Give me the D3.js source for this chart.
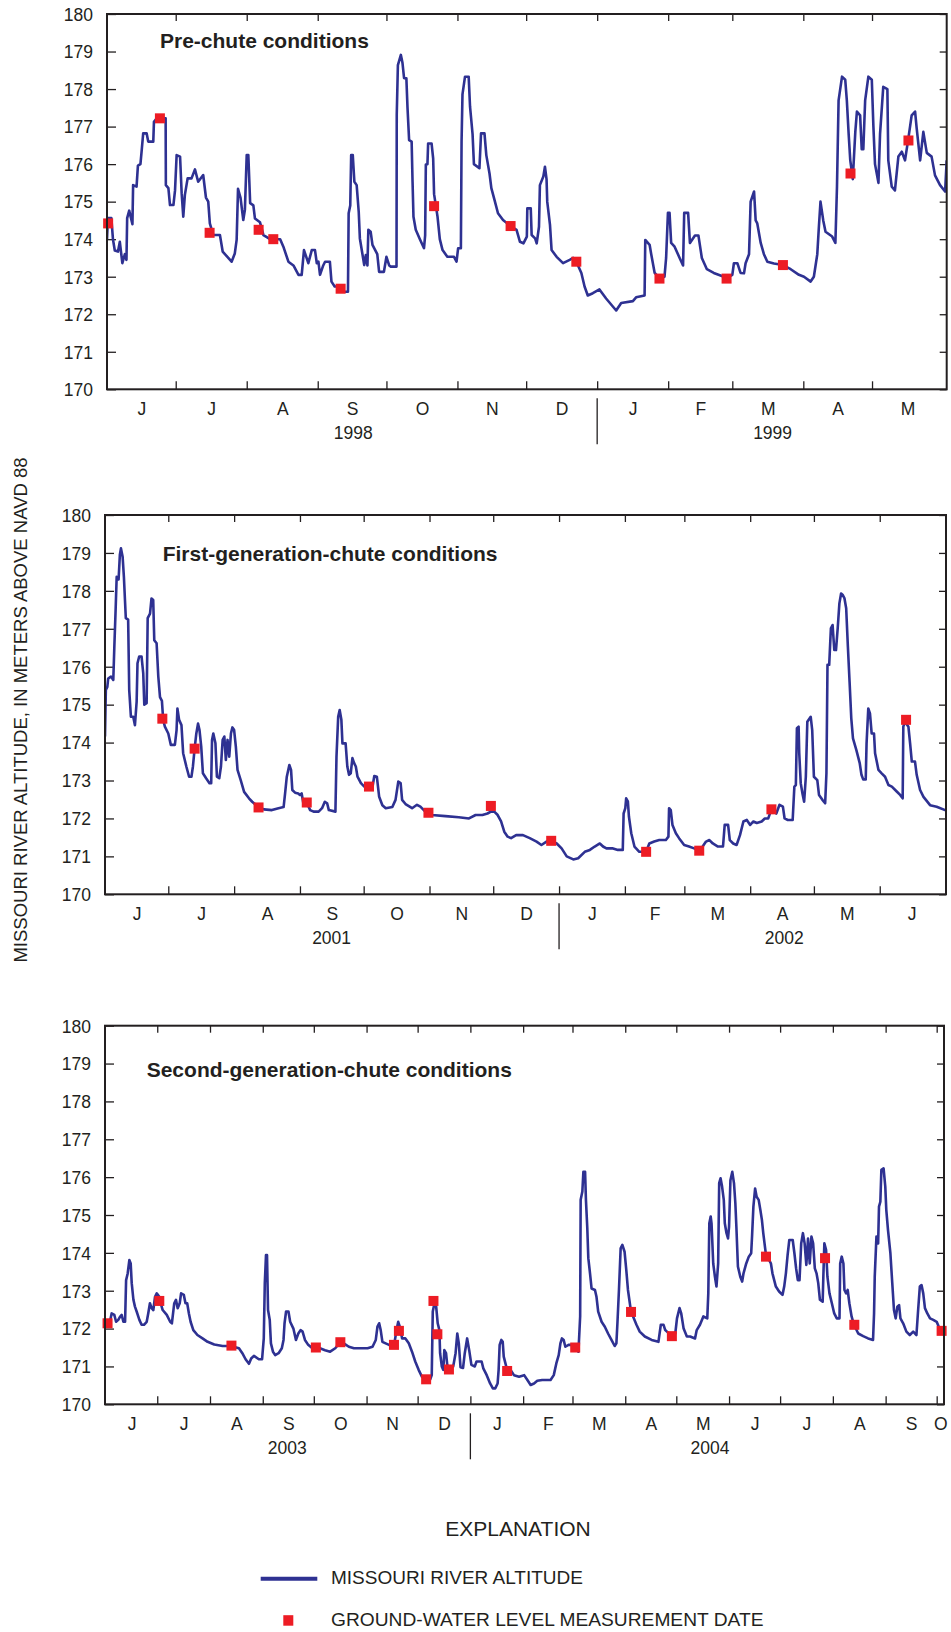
<!DOCTYPE html>
<html>
<head>
<meta charset="utf-8">
<script src="https://cdn.jsdelivr.net/npm/d3@7"></script>
<style>
  html, body { margin: 0; padding: 0; background: #fff; }
  svg { display: block; font-family: Arial, "Liberation Sans", Helvetica, sans-serif; }
</style>
</head>
<body>
<svg id="chart" width="951" height="1632"></svg>
<script>
// Dates are written "YYYY-MM-DD" where the day may carry a fraction (e.g. "1998-06-12.4").

// ---- Pre-chute period, June 1998 - May 1999 ----
const river1998 = [
  ["1998-06-01",174.0],["1998-06-01.4",174.56],["1998-06-02.9",174.56],["1998-06-03.6",174.0],
  ["1998-06-04.4",173.7],["1998-06-05.8",173.67],["1998-06-06.6",173.93],["1998-06-07.7",173.36],
  ["1998-06-08.8",173.6],["1998-06-09.5",173.45],["1998-06-09.8",174.56],["1998-06-10.7",174.76],
  ["1998-06-12.1",174.4],["1998-06-12.4",175.44],["1998-06-13.9",175.4],["1998-06-14.5",175.96],
  ["1998-06-15.6",176.0],["1998-06-16.1",176.33],["1998-06-16.8",176.82],["1998-06-18.3",176.82],
  ["1998-06-19",176.6],["1998-06-21.2",176.6],["1998-06-21.5",177.13],["1998-06-22.7",177.22],
  ["1998-06-26.6",177.22],["1998-06-26.7",175.44],["1998-06-27.8",175.36],["1998-06-28.5",174.91],
  ["1998-06-30",174.91],["1998-06-30.7",175.3],["1998-07-01.4",176.24],["1998-07-02.9",176.2],
  ["1998-07-03.6",175.22],["1998-07-04.3",174.6],["1998-07-05",175.18],["1998-07-06.2",175.62],
  ["1998-07-07.9",175.62],["1998-07-09.4",175.86],["1998-07-10.8",175.53],["1998-07-13",175.71],
  ["1998-07-14.2",175.11],["1998-07-15.2",175.0],["1998-07-15.9",174.42],["1998-07-17.4",174.11],
  ["1998-07-20.3",174.11],["1998-07-21.5",173.67],["1998-07-25.4",173.4],["1998-07-26.8",173.62],
  ["1998-07-27.6",173.98],["1998-07-28.2",175.34],["1998-07-29.3",175.1],["1998-07-30.5",174.51],
  ["1998-07-31.2",174.78],["1998-08-01",176.24],["1998-08-01.7",176.24],["1998-08-02.5",174.96],
  ["1998-08-03.9",174.9],["1998-08-04.6",174.55],["1998-08-06.8",174.45],["1998-08-08.3",174.11],
  ["1998-08-11.2",174.0],["1998-08-15.6",174.0],["1998-08-17",173.8],["1998-08-19.2",173.4],
  ["1998-08-21.4",173.3],["1998-08-23.6",173.05],["1998-08-25",173.05],["1998-08-26",173.71],
  ["1998-08-27.9",173.36],["1998-08-29.4",173.71],["1998-08-30.8",173.71],["1998-08-31.6",173.36],
  ["1998-09-01.3",173.4],["1998-09-02",173.05],["1998-09-03.4",173.3],["1998-09-04.2",173.4],
  ["1998-09-06.3",173.4],["1998-09-07",172.87],["1998-09-08.4",172.74],["1998-09-10.6",172.74],
  ["1998-09-12",172.6],["1998-09-14.2",172.6],["1998-09-14.5",174.69],["1998-09-15.2",174.9],
  ["1998-09-15.6",176.24],["1998-09-16.3",176.24],["1998-09-17",175.53],["1998-09-18",175.44],
  ["1998-09-18.9",174.73],["1998-09-19.4",174.02],["1998-09-21.3",173.31],["1998-09-22",173.58],
  ["1998-09-22.7",173.3],["1998-09-23.1",174.25],["1998-09-24.1",174.2],["1998-09-24.9",173.85],
  ["1998-09-27",173.6],["1998-09-27.8",173.13],["1998-09-29.9",173.13],["1998-10-01",173.53],
  ["1998-10-02.2",173.3],["1998-10-02.9",173.27],["1998-10-05.4",173.27],["1998-10-05.5",177.31],
  ["1998-10-06",178.64],["1998-10-07.3",178.91],["1998-10-08",178.7],["1998-10-08.7",178.29],
  ["1998-10-09.7",178.29],["1998-10-10.2",177.5],["1998-10-10.9",176.64],["1998-10-12",176.6],
  ["1998-10-12.4",175.53],["1998-10-12.8",174.6],["1998-10-13.8",174.25],["1998-10-15.6",174.0],
  ["1998-10-17.4",173.76],["1998-10-17.9",174.1],["1998-10-18.2",175.99],["1998-10-18.9",176.0],
  ["1998-10-19.2",176.55],["1998-10-20.7",176.55],["1998-10-21.4",176.15],["1998-10-21.8",175.2],
  ["1998-10-23.3",174.6],["1998-10-24.3",174.0],["1998-10-25.5",173.71],["1998-10-27.6",173.53],
  ["1998-10-30.5",173.53],["1998-10-31.6",173.4],["1998-11-01.3",173.76],["1998-11-02.5",173.76],
  ["1998-11-02.8",176.6],["1998-11-03.2",177.86],["1998-11-04.3",178.33],["1998-11-05.9",178.33],
  ["1998-11-06.5",177.53],["1998-11-07.6",176.8],["1998-11-08.2",176.0],["1998-11-10.6",175.89],
  ["1998-11-11.3",176.82],["1998-11-12.8",176.82],["1998-11-13.6",176.24],["1998-11-15",175.75],
  ["1998-11-15.8",175.36],["1998-11-17.2",175.04],["1998-11-18.7",174.69],["1998-11-20.9",174.51],
  ["1998-11-24.2",174.35],["1998-11-26.8",174.25],["1998-11-28.3",173.93],["1998-11-29.8",173.89],
  ["1998-12-01.3",174.07],["1998-12-01.5",174.82],["1998-12-03",174.82],["1998-12-03.4",174.11],
  ["1998-12-04.9",174.02],["1998-12-05.6",173.89],["1998-12-06.6",174.33],["1998-12-07",175.44],
  ["1998-12-08.5",175.67],["1998-12-09.2",175.93],["1998-12-09.9",175.6],["1998-12-10.2",175.0],
  ["1998-12-11.4",174.38],["1998-12-12.1",173.71],["1998-12-14.3",173.53],["1998-12-17.1",173.36],
  ["1998-12-20",173.45],["1998-12-21.5",173.5],["1998-12-22.9",173.4],["1998-12-25.1",173.1],
  ["1998-12-26.5",172.74],["1998-12-27.9",172.5],["1998-12-30.1",172.56],["1999-01-02",172.66],
  ["1999-01-04.9",172.42],["1999-01-09.3",172.1],["1999-01-11.5",172.3],["1999-01-16.6",172.35],
  ["1999-01-18",172.45],["1999-01-21.7",172.5],["1999-01-22",173.98],["1999-01-23.9",173.85],
  ["1999-01-24.6",173.6],["1999-01-26.1",173.1],["1999-01-28.2",172.96],["1999-01-30.4",173.0],
  ["1999-01-31.1",173.5],["1999-01-31.9",174.7],["1999-02-01.6",174.7],["1999-02-02.3",173.9],
  ["1999-02-03.8",173.8],["1999-02-06",173.5],["1999-02-07.5",173.3],["1999-02-08",174.7],
  ["1999-02-09.7",174.7],["1999-02-10.5",173.9],["1999-02-12.7",174.1],["1999-02-14.2",174.1],
  ["1999-02-15.7",173.5],["1999-02-17.9",173.2],["1999-02-20.9",173.1],["1999-02-25.3",173.0],
  ["1999-02-26.5",172.96],["1999-03-01",173.05],["1999-03-01.7",173.36],["1999-03-03.2",173.36],
  ["1999-03-04.6",173.1],["1999-03-06.1",173.09],["1999-03-06.8",173.36],["1999-03-08.3",173.6],
  ["1999-03-09",175.0],["1999-03-10.5",175.27],["1999-03-11.2",174.5],["1999-03-11.9",174.42],
  ["1999-03-13.4",173.9],["1999-03-14.8",173.6],["1999-03-16.3",173.4],["1999-03-19.2",173.35],
  ["1999-03-23.1",173.31],["1999-03-26.5",173.2],["1999-03-30.1",173.05],["1999-04-01.3",173.0],
  ["1999-04-04.2",172.87],["1999-04-05.6",173.0],["1999-04-07.1",173.6],["1999-04-07.8",174.33],
  ["1999-04-08.5",175.0],["1999-04-09.7",174.5],["1999-04-10.7",174.2],["1999-04-13.6",174.07],
  ["1999-04-15",173.9],["1999-04-15.7",175.4],["1999-04-16.4",177.7],["1999-04-17.9",178.33],
  ["1999-04-19.3",178.25],["1999-04-20",177.7],["1999-04-20.8",176.8],["1999-04-21.5",176.1],
  ["1999-04-22.6",175.6],["1999-04-23.7",176.86],["1999-04-24.4",177.4],["1999-04-25.8",177.3],
  ["1999-04-26.5",176.4],["1999-04-27.2",176.4],["1999-04-28",177.7],["1999-04-29.4",178.33],
  ["1999-04-30.9",178.25],["1999-05-01.6",177.0],["1999-05-02.3",176.0],["1999-05-03.8",175.5],
  ["1999-05-04.5",176.8],["1999-05-05.9",178.06],["1999-05-07.7",178.0],["1999-05-08.1",176.1],
  ["1999-05-09.6",175.4],["1999-05-11",175.3],["1999-05-12.5",176.2],["1999-05-14",176.33],
  ["1999-05-15.4",176.1],["1999-05-16.9",176.7],["1999-05-18.3",177.3],["1999-05-19.8",177.4],
  ["1999-05-20.5",176.95],["1999-05-22",176.1],["1999-05-23.4",176.86],["1999-05-24.9",176.3],
  ["1999-05-27",176.2],["1999-05-28.5",175.7],["1999-05-30.7",175.44],["1999-06-01.9",175.27],
  ["1999-06-02.6",176.1]
];
const wells1998 = [
  ["1998-06-01.5",174.42],["1998-06-24.1",177.22],["1998-07-15.8",174.17],["1998-08-06.2",174.25],
  ["1998-08-12.6",174.0],["1998-09-11",172.68],["1998-10-21.8",174.88],["1998-11-24.2",174.35],
  ["1998-12-22.9",173.4],["1999-01-28.2",172.95],["1999-02-26.5",172.95],["1999-03-23.1",173.31],
  ["1999-04-21.6",175.75],["1999-05-16.9",176.63]
];

// ---- First-generation chute, June 2001 - June 2002 ----
const river2001 = [
  ["2001-06-01.2",174.16],["2001-06-01.6",175.39],["2001-06-02.3",175.47],["2001-06-02.7",175.69],
  ["2001-06-04",175.74],["2001-06-05.1",175.65],["2001-06-05.6",176.53],["2001-06-06.2",177.5],
  ["2001-06-06.7",178.37],["2001-06-07.6",178.3],["2001-06-08.2",178.95],["2001-06-08.7",179.12],
  ["2001-06-09.5",178.9],["2001-06-10.1",178.37],["2001-06-10.6",177.76],["2001-06-11",177.28],
  ["2001-06-12.1",177.24],["2001-06-12.6",175.39],["2001-06-13.4",174.68],["2001-06-14.5",174.68],
  ["2001-06-15.3",174.46],["2001-06-16.1",175.08],["2001-06-16.5",176.09],["2001-06-17.3",176.27],
  ["2001-06-18.4",176.27],["2001-06-19.2",175.83],["2001-06-19.7",175.0],["2001-06-20.8",175.04],
  ["2001-06-21.3",177.28],["2001-06-22.4",177.4],["2001-06-23.1",177.8],["2001-06-23.9",177.76],
  ["2001-06-24.4",176.7],["2001-06-25.5",176.62],["2001-06-26.3",175.74],["2001-06-27.1",175.2],
  ["2001-06-28",175.1],["2001-06-28.6",174.6],["2001-06-29.4",174.42],["2001-07-01",174.24],
  ["2001-07-02.2",173.94],["2001-07-04.1",173.94],["2001-07-04.9",174.33],["2001-07-05.3",174.9],
  ["2001-07-06.1",174.6],["2001-07-07.2",174.46],["2001-07-08",173.72],["2001-07-09.5",173.37],
  ["2001-07-10.8",173.1],["2001-07-11.9",173.1],["2001-07-12.6",173.37],["2001-07-13.4",173.84],
  ["2001-07-14.2",174.24],["2001-07-15",174.5],["2001-07-15.7",174.33],["2001-07-16.5",173.9],
  ["2001-07-17.3",173.19],["2001-07-18.8",173.06],["2001-07-20.4",172.93],["2001-07-21.2",172.93],
  ["2001-07-21.6",174.07],["2001-07-22.2",174.24],["2001-07-23.2",173.98],["2001-07-23.9",173.1],
  ["2001-07-25",173.06],["2001-07-25.8",173.37],["2001-07-26.6",174.07],["2001-07-27.4",174.16],
  ["2001-07-28.1",173.54],["2001-07-28.9",174.07],["2001-07-29.7",173.63],["2001-07-30.5",174.24],
  ["2001-07-31.2",174.4],["2001-08-01",174.33],["2001-08-01.8",173.9],["2001-08-02.6",173.28],
  ["2001-08-04.1",173.01],["2001-08-05.7",172.7],["2001-08-08",172.53],["2001-08-09.5",172.44],
  ["2001-08-12.5",172.3],["2001-08-15",172.24],["2001-08-18.8",172.22],["2001-08-21.9",172.27],
  ["2001-08-24.3",172.3],["2001-08-25",172.66],["2001-08-25.8",173.1],["2001-08-27",173.41],
  ["2001-08-27.8",173.28],["2001-08-28.4",172.75],["2001-08-29.7",172.68],["2001-08-31.2",172.66],
  ["2001-09-01",172.62],["2001-09-01.8",172.66],["2001-09-02.6",172.4],["2001-09-04.2",172.42],
  ["2001-09-05.8",172.22],["2001-09-07.4",172.18],["2001-09-09.8",172.18],["2001-09-11.4",172.27],
  ["2001-09-12.7",172.44],["2001-09-13.8",172.4],["2001-09-14.6",172.22],["2001-09-17.7",172.18],
  ["2001-09-18.2",173.63],["2001-09-19",174.68],["2001-09-19.7",174.86],["2001-09-20.5",174.6],
  ["2001-09-21",173.98],["2001-09-22.5",173.98],["2001-09-23.3",173.37],["2001-09-24.1",173.15],
  ["2001-09-24.9",173.19],["2001-09-25.7",173.59],["2001-09-26.5",173.46],["2001-09-27.3",173.37],
  ["2001-09-28.1",173.1],["2001-09-29.7",172.93],["2001-10-01.3",172.84],["2001-10-05.2",172.84],
  ["2001-10-06",173.12],["2001-10-07.2",173.1],["2001-10-08.3",172.57],["2001-10-09.8",172.35],
  ["2001-10-11.4",172.27],["2001-10-14.5",172.3],["2001-10-16",172.49],["2001-10-17.3",172.97],
  ["2001-10-18.4",172.93],["2001-10-19.1",172.49],["2001-10-20.7",172.38],["2001-10-23.8",172.27],
  ["2001-10-26.1",172.36],["2001-10-27.7",172.31],["2001-10-30",172.18],["2001-11-02.1",172.09],
  ["2001-11-08.5",172.06],["2001-11-14.8",172.03],["2001-11-19.6",172.0],["2001-11-22.7",172.09],
  ["2001-11-25.9",172.09],["2001-11-28.3",172.13],["2001-11-29.9",172.18],["2001-12-01.5",172.18],
  ["2001-12-03.1",172.09],["2001-12-04.7",171.92],["2001-12-06.2",171.65],["2001-12-07.8",171.52],
  ["2001-12-09.4",171.48],["2001-12-11.8",171.56],["2001-12-15",171.56],["2001-12-18.2",171.48],
  ["2001-12-21.4",171.39],["2001-12-23.7",171.3],["2001-12-26.1",171.39],["2001-12-28.3",171.41],
  ["2001-12-30.9",171.34],["2002-01-02.2",171.21],["2002-01-04.6",171.0],["2002-01-07.7",170.92],
  ["2002-01-10",170.95],["2002-01-13.1",171.12],["2002-01-15.5",171.17],["2002-01-17.8",171.26],
  ["2002-01-20.2",171.34],["2002-01-21.7",171.26],["2002-01-23.3",171.21],["2002-01-26.4",171.21],
  ["2002-01-28.7",171.17],["2002-01-31",171.17],["2002-01-31.4",172.13],["2002-02-01.2",172.27],
  ["2002-02-01.6",172.53],["2002-02-02.4",172.45],["2002-02-02.9",172.05],["2002-02-04",171.61],
  ["2002-02-05.5",171.26],["2002-02-07.8",171.12],["2002-02-11",171.12],["2002-02-12.5",171.34],
  ["2002-02-14.8",171.39],["2002-02-17.2",171.43],["2002-02-20.3",171.43],["2002-02-21.5",171.52],
  ["2002-02-21.8",172.27],["2002-02-22.6",172.22],["2002-02-23.4",171.83],["2002-02-25",171.61],
  ["2002-02-26.5",171.48],["2002-02-28.9",171.3],["2002-03-03.2",171.26],["2002-03-05.6",171.21],
  ["2002-03-08",171.15],["2002-03-09.6",171.26],["2002-03-11.2",171.39],["2002-03-12.8",171.43],
  ["2002-03-14.4",171.34],["2002-03-16.8",171.26],["2002-03-19.2",171.26],["2002-03-20",171.83],
  ["2002-03-21.6",171.83],["2002-03-22.4",171.43],["2002-03-24",171.34],["2002-03-25.6",171.3],
  ["2002-03-27.2",171.56],["2002-03-28.8",171.92],["2002-03-30.4",171.96],["2002-04-01",171.83],
  ["2002-04-02.5",171.92],["2002-04-04.1",171.88],["2002-04-06.4",171.92],["2002-04-07.9",172.0],
  ["2002-04-09.5",172.0],["2002-04-11",172.24],["2002-04-13.3",172.13],["2002-04-14.8",172.36],
  ["2002-04-16.4",172.31],["2002-04-17.2",172.0],["2002-04-18.7",171.96],["2002-04-21",171.96],
  ["2002-04-21.8",172.84],["2002-04-22.5",172.88],["2002-04-23",174.38],["2002-04-23.8",174.42],
  ["2002-04-24.1",173.72],["2002-04-24.8",172.93],["2002-04-25.6",172.66],["2002-04-26.4",172.44],
  ["2002-04-27.2",173.1],["2002-04-27.9",174.55],["2002-04-29.5",174.68],["2002-04-30.2",174.33],
  ["2002-05-01",173.1],["2002-05-02.6",173.01],["2002-05-03.4",172.62],["2002-05-05",172.49],
  ["2002-05-06.3",172.4],["2002-05-06.9",173.19],["2002-05-07.4",176.05],["2002-05-08.2",176.05],
  ["2002-05-09",177.01],["2002-05-09.8",177.1],["2002-05-10.6",176.44],["2002-05-11.4",176.44],
  ["2002-05-12.2",177.01],["2002-05-13",177.67],["2002-05-13.8",177.93],["2002-05-14.6",177.89],
  ["2002-05-15.4",177.8],["2002-05-16.2",177.54],["2002-05-17",176.53],["2002-05-17.8",175.6],
  ["2002-05-18.6",174.64],["2002-05-19.4",174.11],["2002-05-21",173.8],["2002-05-22.6",173.45],
  ["2002-05-23.4",173.15],["2002-05-24.2",173.03],["2002-05-25.4",173.03],["2002-05-25.8",173.98],
  ["2002-05-26.6",174.9],["2002-05-27.4",174.77],["2002-05-28.2",174.24],["2002-05-29.3",174.24],
  ["2002-05-29.8",173.72],["2002-05-31.4",173.28],["2002-06-01.9",173.19],["2002-06-03.5",173.1],
  ["2002-06-05.1",172.88],["2002-06-06.7",172.84],["2002-06-09",172.71],["2002-06-10.6",172.62],
  ["2002-06-11.8",172.53],["2002-06-12.1",174.42],["2002-06-12.9",174.55],["2002-06-14.5",174.42],
  ["2002-06-15.3",173.98],["2002-06-16.1",173.5],["2002-06-17.6",173.5],["2002-06-18.4",173.15],
  ["2002-06-20",172.75],["2002-06-21.6",172.57],["2002-06-24.7",172.35],["2002-06-27.8",172.31],
  ["2002-07-01.8",172.22],["2002-07-02.2",172.22]
];
const wells2001 = [
  ["2001-06-28.2",174.63],["2001-07-13.4",173.84],["2001-08-12.5",172.29],["2001-09-04.2",172.42],
  ["2001-10-03.5",172.84],["2001-10-31.5",172.15],["2001-11-29.9",172.33],["2001-12-28.3",171.41],
  ["2002-02-11",171.12],["2002-03-08",171.15],["2002-04-11",172.24],["2002-06-13.4",174.6]
];

// ---- Second-generation chute, June 2003 - October 2004 ----
const river2003 = [
  ["2003-05-31.3",172.14],["2003-06-03.2",172.18],["2003-06-04.2",172.4],["2003-06-05.8",172.36],
  ["2003-06-06.8",172.18],["2003-06-08.1",172.23],["2003-06-09.1",172.31],["2003-06-10.1",172.36],
  ["2003-06-11.1",172.18],["2003-06-12.1",172.18],["2003-06-12.7",173.28],["2003-06-13.6",173.45],
  ["2003-06-14.6",173.81],["2003-06-15.4",173.72],["2003-06-16",173.2],["2003-06-17",172.76],
  ["2003-06-17.9",172.58],["2003-06-18.9",172.45],["2003-06-20.5",172.23],["2003-06-21.8",172.1],
  ["2003-06-23.2",172.1],["2003-06-24.8",172.18],["2003-06-25.7",172.4],["2003-06-26.7",172.67],
  ["2003-06-27.7",172.54],["2003-06-28.7",172.49],["2003-06-29.7",172.84],["2003-06-30.7",172.93],
  ["2003-07-02.2",172.84],["2003-07-03",172.67],["2003-07-04.2",172.49],["2003-07-06.6",172.36],
  ["2003-07-08.6",172.18],["2003-07-09.6",172.14],["2003-07-11",172.67],["2003-07-12",172.76],
  ["2003-07-13",172.54],["2003-07-14.2",172.67],["2003-07-15",172.93],["2003-07-16.6",172.89],
  ["2003-07-17.6",172.67],["2003-07-18.6",172.67],["2003-07-19.6",172.4],["2003-07-20.6",172.18],
  ["2003-07-22.2",171.96],["2003-07-24.6",171.83],["2003-07-27.6",171.74],["2003-07-30.6",171.65],
  ["2003-08-03.5",171.58],["2003-08-08.4",171.54],["2003-08-13.2",171.54],["2003-08-18",171.48],
  ["2003-08-20",171.35],["2003-08-21.9",171.19],["2003-08-23.9",171.07],["2003-08-25.2",171.21],
  ["2003-08-26.8",171.28],["2003-08-29.7",171.19],["2003-08-31.6",171.19],["2003-09-01.6",171.74],
  ["2003-09-02.2",173.2],["2003-09-02.9",173.94],["2003-09-03.5",173.94],["2003-09-04.1",172.49],
  ["2003-09-05.1",172.23],["2003-09-05.8",171.61],["2003-09-07",171.39],["2003-09-08.3",171.3],
  ["2003-09-10.3",171.35],["2003-09-12.2",171.48],["2003-09-13.2",171.7],["2003-09-13.8",172.14],
  ["2003-09-14.7",172.45],["2003-09-16.1",172.45],["2003-09-17.1",172.18],["2003-09-19",172.0],
  ["2003-09-20.5",171.7],["2003-09-21.9",171.87],["2003-09-23.2",171.96],["2003-09-24.4",171.92],
  ["2003-09-25.8",171.7],["2003-09-27.7",171.57],["2003-09-29.6",171.5],["2003-10-02.2",171.5],
  ["2003-10-04.6",171.48],["2003-10-07.6",171.43],["2003-10-10.6",171.39],["2003-10-13.6",171.48],
  ["2003-10-16.6",171.64],["2003-10-18.6",171.61],["2003-10-21.6",171.52],["2003-10-24.6",171.48],
  ["2003-10-28.6",171.48],["2003-11-01.6",171.48],["2003-11-04.5",171.52],["2003-11-06.4",171.7],
  ["2003-11-07.4",172.05],["2003-11-08.4",172.14],["2003-11-09.3",171.96],["2003-11-10.3",171.65],
  ["2003-11-12.2",171.61],["2003-11-14.2",171.57],["2003-11-17.1",171.54],["2003-11-18.6",171.96],
  ["2003-11-19.6",172.18],["2003-11-20.5",172.05],["2003-11-21.9",171.74],["2003-11-23.8",171.74],
  ["2003-11-25.8",171.61],["2003-11-27.7",171.39],["2003-11-29.6",171.13],["2003-12-01.6",170.91],
  ["2003-12-03.5",170.73],["2003-12-05.5",170.66],["2003-12-08.4",170.66],["2003-12-09.3",170.77],
  ["2003-12-09.9",172.45],["2003-12-10.9",172.67],["2003-12-11.9",172.58],["2003-12-12.8",172.14],
  ["2003-12-13.8",171.96],["2003-12-14.2",171.35],["2003-12-15.2",171.0],["2003-12-16.1",170.91],
  ["2003-12-16.7",171.43],["2003-12-17.7",171.35],["2003-12-18.4",171.04],["2003-12-20",170.98],
  ["2003-12-21.9",171.0],["2003-12-23.3",171.35],["2003-12-24.3",171.87],["2003-12-25.2",171.61],
  ["2003-12-26.2",170.98],["2003-12-27.7",170.96],["2003-12-28.7",171.35],["2003-12-30.1",171.74],
  ["2003-12-31.3",171.43],["2004-01-01.6",171.04],["2004-01-03.6",171.0],["2004-01-04.6",171.13],
  ["2004-01-07.6",171.13],["2004-01-08.6",170.95],["2004-01-10.6",170.77],["2004-01-12.6",170.55],
  ["2004-01-14.2",170.42],["2004-01-15.6",170.42],["2004-01-17",170.55],["2004-01-17.6",170.91],
  ["2004-01-18.2",171.57],["2004-01-19.2",171.7],["2004-01-20",171.65],["2004-01-20.6",171.26],
  ["2004-01-21.6",171.08],["2004-01-22.6",170.9],["2004-01-24.6",170.91],["2004-01-26.6",170.77],
  ["2004-01-29.6",170.73],["2004-02-01.6",170.77],["2004-02-03.5",170.64],["2004-02-05.4",170.51],
  ["2004-02-07.4",170.55],["2004-02-09.3",170.62],["2004-02-12.2",170.64],["2004-02-17.1",170.64],
  ["2004-02-19",170.77],["2004-02-20.5",171.08],["2004-02-21.9",171.3],["2004-02-22.9",171.61],
  ["2004-02-23.8",171.74],["2004-02-24.8",171.7],["2004-02-25.8",171.52],["2004-02-27.7",171.57],
  ["2004-02-29.6",171.57],["2004-03-02.6",171.5],["2004-03-03.5",171.43],["2004-03-04.5",171.39],
  ["2004-03-05.5",172.32],["2004-03-05.8",175.4],["2004-03-06.8",175.62],["2004-03-07.4",176.14],
  ["2004-03-08.4",176.14],["2004-03-08.9",175.4],["2004-03-09.7",174.65],["2004-03-10.3",173.86],
  ["2004-03-11.3",173.46],["2004-03-12.2",173.06],["2004-03-14.2",173.02],["2004-03-15.1",172.84],
  ["2004-03-16.1",172.45],["2004-03-18.1",172.18],["2004-03-20",172.05],["2004-03-21.9",171.87],
  ["2004-03-23.9",171.7],["2004-03-25.8",171.54],["2004-03-26.8",171.61],["2004-03-27.4",172.14],
  ["2004-03-28.3",173.02],["2004-03-29.3",174.12],["2004-03-30.3",174.21],["2004-03-31.6",174.03],
  ["2004-04-01.6",173.55],["2004-04-02.6",173.02],["2004-04-04.4",172.44],["2004-04-05.6",172.32],
  ["2004-04-07.6",172.1],["2004-04-09.5",171.92],["2004-04-12.5",171.79],["2004-04-16.5",171.7],
  ["2004-04-20.5",171.65],["2004-04-21.9",172.1],["2004-04-23.5",172.1],["2004-04-24.5",171.96],
  ["2004-04-25.5",171.92],["2004-04-28.4",171.8],["2004-04-30.4",171.87],["2004-05-01.4",172.27],
  ["2004-05-02.9",172.54],["2004-05-03.9",172.4],["2004-05-05.3",172.0],["2004-05-07.2",171.79],
  ["2004-05-09.1",171.79],["2004-05-12",171.74],["2004-05-13",171.96],["2004-05-14.9",172.1],
  ["2004-05-16.9",172.32],["2004-05-19.2",172.27],["2004-05-19.8",172.93],["2004-05-20.4",174.78],
  ["2004-05-21.2",174.96],["2004-05-21.7",174.78],["2004-05-22.7",173.72],["2004-05-23.7",173.37],
  ["2004-05-24.6",173.11],["2004-05-25.6",173.72],["2004-05-26.2",175.84],["2004-05-27",175.97],
  ["2004-05-27.9",175.75],["2004-05-28.9",175.4],["2004-05-29.5",174.78],["2004-05-30.5",174.52],
  ["2004-05-31.4",174.38],["2004-06-01",174.69],["2004-06-01.8",175.92],["2004-06-02.9",176.14],
  ["2004-06-03.9",175.84],["2004-06-04.7",175.31],["2004-06-05.3",174.69],["2004-06-06.2",173.64],
  ["2004-06-07.6",173.37],["2004-06-08.7",173.24],["2004-06-09.5",173.46],["2004-06-11.1",173.72],
  ["2004-06-12.6",173.9],["2004-06-14",173.99],["2004-06-14.5",174.43],["2004-06-15.3",175.22],
  ["2004-06-16.3",175.7],["2004-06-17.2",175.48],["2004-06-18.4",175.4],["2004-06-19.4",175.13],
  ["2004-06-20.3",174.87],["2004-06-21.1",174.52],["2004-06-22.7",173.94],["2004-06-24.6",173.81],
  ["2004-06-25.6",173.72],["2004-06-26.5",173.46],["2004-06-28.5",173.11],["2004-06-30.4",172.98],
  ["2004-07-02.4",172.89],["2004-07-03.4",173.11],["2004-07-04.4",173.46],["2004-07-05.4",173.94],
  ["2004-07-06.4",174.34],["2004-07-08.4",174.34],["2004-07-09.4",173.99],["2004-07-10.4",173.59],
  ["2004-07-11.4",173.28],["2004-07-12.4",173.28],["2004-07-13.4",174.25],["2004-07-14.4",174.52],
  ["2004-07-15.4",174.25],["2004-07-16.4",173.68],["2004-07-17.4",174.38],["2004-07-18.4",173.72],
  ["2004-07-19.4",174.43],["2004-07-20.4",174.25],["2004-07-21.4",173.59],["2004-07-22.4",173.46],
  ["2004-07-23.4",173.2],["2004-07-24.4",172.76],["2004-07-26",172.71],["2004-07-26.4",173.37],
  ["2004-07-27",174.25],["2004-07-28",174.08],["2004-07-28.8",173.37],["2004-07-30",172.93],
  ["2004-07-31.4",172.67],["2004-08-01.8",172.4],["2004-08-03.3",172.27],["2004-08-04.9",172.27],
  ["2004-08-05.3",173.72],["2004-08-06.2",173.9],["2004-08-07.2",173.72],["2004-08-07.8",173.02],
  ["2004-08-08.8",172.93],["2004-08-09.7",173.02],["2004-08-10.7",172.67],["2004-08-12",172.32],
  ["2004-08-13.4",172.1],["2004-08-15.9",171.87],["2004-08-18.8",171.8],["2004-08-21.7",171.74],
  ["2004-08-24.6",171.7],["2004-08-25.2",172.4],["2004-08-25.6",173.37],["2004-08-26.6",174.43],
  ["2004-08-27.6",174.25],["2004-08-28.1",175.22],["2004-08-28.9",175.35],["2004-08-29.5",176.19],
  ["2004-08-30.8",176.23],["2004-08-31.8",175.75],["2004-09-01.4",175.13],["2004-09-02.4",174.6],
  ["2004-09-03.8",173.99],["2004-09-04.9",173.2],["2004-09-05.9",172.49],["2004-09-06.9",172.27],
  ["2004-09-07.9",172.58],["2004-09-08.9",172.62],["2004-09-09.7",172.27],["2004-09-11.3",172.14],
  ["2004-09-13.2",171.92],["2004-09-15.2",171.83],["2004-09-17.2",171.92],["2004-09-19.1",171.83],
  ["2004-09-20.1",172.49],["2004-09-21.1",173.11],["2004-09-22.1",173.15],["2004-09-23.1",172.93],
  ["2004-09-24.1",172.54],["2004-09-25.5",172.4],["2004-09-27.1",172.27],["2004-09-29",172.23],
  ["2004-10-01",172.18],["2004-10-03",171.96],["2004-10-05.3",171.92]
];
const wells2003 = [
  ["2003-06-01.8",172.14],["2003-07-02.2",172.73],["2003-08-13.6",171.55],["2003-10-02.2",171.5],
  ["2003-10-16.6",171.64],["2003-11-17.1",171.57],["2003-11-20",171.94],["2003-12-06",170.66],
  ["2003-12-10.3",172.73],["2003-12-12.6",171.85],["2003-12-19.4",170.92],["2004-01-22.6",170.88],
  ["2004-03-02.6",171.5],["2004-04-04.4",172.44],["2004-04-28.4",171.8],["2004-06-22.7",173.9],
  ["2004-07-27.4",173.86],["2004-08-13.6",172.1],["2004-10-03.9",171.94]
];

const altitudeTicks = d3.range(170, 181, 1);

// ---- helpers ----
const DAY = 864e5;
const toDate = s => {
  const [y, m, d] = s.split("-").map(Number);
  return new Date(Date.UTC(y, m - 1, 1) + (d - 1) * DAY);
};
const toPoints = rows => rows.map(([t, v]) => ({ date: toDate(t), value: v }));

const INK = "#231f20";
const RIVER = "#2e3192";
const WELL = "#ed1c24";

// ---- panel layout ----
const panels = [
  { id: "pre", title: "Pre-chute conditions", titleX: 160, titleY: 47.7,
    left: 107, right: 946.7, top: 14, bottom: 389.3,
    start: "1998-06-01", end: "1999-06-02.6",
    river: river1998, wells: wells1998,
    years: [["1998", "1998-09-16.5"], ["1999", "1999-03-18.6"]], split: "1999-01-01" },
  { id: "first", title: "First-generation-chute conditions", titleX: 162.7, titleY: 561,
    left: 105, right: 946, top: 515, bottom: 894.3,
    start: "2001-06-01.2", end: "2002-07-02.2",
    river: river2001, wells: wells2001,
    years: [["2001", "2001-09-15.9"], ["2002", "2002-04-17"]], split: "2002-01-01" },
  { id: "second", title: "Second-generation-chute conditions", titleX: 146.7, titleY: 1076.7,
    left: 105, right: 944, top: 1025.7, bottom: 1404.3,
    start: "2003-05-31.3", end: "2004-10-05.3",
    river: river2003, wells: wells2003,
    years: [["2003", "2003-09-15.4"], ["2004", "2004-05-20.8"]], split: "2004-01-01" }
];

const svg = d3.select("#chart");

function styleAxis(g) {
  g.attr("font-size", null).attr("font-family", null);
  g.select(".domain").remove();
  g.selectAll(".tick line").attr("stroke", INK).attr("stroke-width", 1.3);
  g.selectAll(".tick text").attr("fill", INK).style("font-size", "17.5px");
}

panels.forEach(p => {
  const t0 = toDate(p.start), t1 = toDate(p.end);
  const x = d3.scaleUtc().domain([t0, t1]).range([p.left, p.right]);
  const y = d3.scaleLinear().domain([170, 180]).range([p.bottom, p.top]);
  const g = svg.append("g").attr("class", "panel-" + p.id);

  // clip for the river trace
  const clipId = "clip-" + p.id;
  svg.append("defs").append("clipPath").attr("id", clipId)
    .append("rect").attr("x", p.left).attr("y", p.top)
    .attr("width", p.right - p.left).attr("height", p.bottom - p.top);

  // month boundaries (inside the frame only)
  const monthStarts = d3.utcMonth.range(t0, t1)
    .filter(d => x(d) - p.left > 5 && p.right - x(d) > 5);

  // month initials centred in each month's visible span
  const monthMids = [];
  d3.utcMonth.range(d3.utcMonth.floor(t0), t1).forEach(m => {
    const a = Math.max(+m, +t0), b = Math.min(+d3.utcMonth.offset(m, 1), +t1);
    if (b - a >= 3 * DAY) monthMids.push(new Date((a + b) / 2));
  });

  // axes
  g.append("g").attr("transform", `translate(${p.left},0)`)
    .call(d3.axisLeft(y).tickValues(altitudeTicks).tickSize(-9).tickPadding(14).tickFormat(d3.format("d")))
    .call(styleAxis)
    .call(a => a.selectAll(".tick text").attr("dy", "0.36em"));
  g.append("g").attr("transform", `translate(${p.right},0)`)
    .call(d3.axisRight(y).tickValues(altitudeTicks).tickSize(-7).tickFormat(""))
    .call(styleAxis);
  g.append("g").attr("transform", `translate(0,${p.bottom})`)
    .call(d3.axisBottom(x).tickValues(monthStarts).tickSize(-8).tickFormat(""))
    .call(styleAxis);
  g.append("g").attr("transform", `translate(0,${p.top})`)
    .call(d3.axisTop(x).tickValues(monthStarts).tickSize(-7).tickFormat(""))
    .call(styleAxis);
  g.append("g").attr("transform", `translate(0,${p.bottom})`)
    .call(d3.axisBottom(x).tickValues(monthMids).tickSize(0).tickPadding(13)
      .tickFormat(d => d3.utcFormat("%b")(d).charAt(0)))
    .call(styleAxis);

  // year labels and the year divider
  g.selectAll("text.year").data(p.years).join("text")
    .attr("class", "year")
    .attr("x", d => x(toDate(d[1])))
    .attr("y", p.bottom + 50)
    .attr("text-anchor", "middle")
    .attr("fill", INK)
    .style("font-size", "17.5px")
    .text(d => d[0]);
  const xs = x(toDate(p.split));
  g.append("line")
    .attr("x1", xs).attr("x2", xs)
    .attr("y1", p.bottom + 9).attr("y2", p.bottom + 55)
    .attr("stroke", INK).attr("stroke-width", 1.3);

  // river altitude trace
  const line = d3.line().x(d => x(d.date)).y(d => y(d.value));
  g.append("path")
    .datum(toPoints(p.river))
    .attr("clip-path", `url(#${clipId})`)
    .attr("fill", "none")
    .attr("stroke", RIVER)
    .attr("stroke-width", 2.6)
    .attr("stroke-linejoin", "round")
    .attr("d", line);

  // ground-water measurement dates
  const s = 10;
  g.selectAll("rect.well").data(toPoints(p.wells)).join("rect")
    .attr("class", "well")
    .attr("x", d => x(d.date) - s / 2)
    .attr("y", d => y(d.value) - s / 2)
    .attr("width", s).attr("height", s)
    .attr("fill", WELL);

  // frame
  g.append("rect")
    .attr("x", p.left).attr("y", p.top)
    .attr("width", p.right - p.left).attr("height", p.bottom - p.top)
    .attr("fill", "none").attr("stroke", INK).attr("stroke-width", 2);

  // panel title
  g.append("text")
    .attr("x", p.titleX).attr("y", p.titleY)
    .attr("fill", INK)
    .style("font-size", "21px").style("font-weight", "bold")
    .text(p.title);
});

// shared vertical axis title
svg.append("text")
  .attr("transform", "translate(26.7,710) rotate(-90)")
  .attr("text-anchor", "middle")
  .attr("fill", INK)
  .style("font-size", "18.5px")
  .text("MISSOURI RIVER ALTITUDE, IN METERS ABOVE NAVD 88");

// explanation
const legend = svg.append("g").attr("class", "legend");
legend.append("text")
  .attr("x", 518).attr("y", 1536).attr("text-anchor", "middle")
  .attr("fill", INK).style("font-size", "21px")
  .text("EXPLANATION");
legend.append("line")
  .attr("x1", 260.7).attr("x2", 317.3).attr("y1", 1578.7).attr("y2", 1578.7)
  .attr("stroke", RIVER).attr("stroke-width", 4);
legend.append("text")
  .attr("x", 331).attr("y", 1584)
  .attr("fill", INK).style("font-size", "19px")
  .text("MISSOURI RIVER ALTITUDE");
legend.append("rect")
  .attr("x", 283.3).attr("y", 1615.2).attr("width", 10).attr("height", 10.5)
  .attr("fill", WELL);
legend.append("text")
  .attr("x", 331).attr("y", 1626)
  .attr("fill", INK).style("font-size", "19.2px")
  .text("GROUND-WATER LEVEL MEASUREMENT DATE");
</script>
</body>
</html>
